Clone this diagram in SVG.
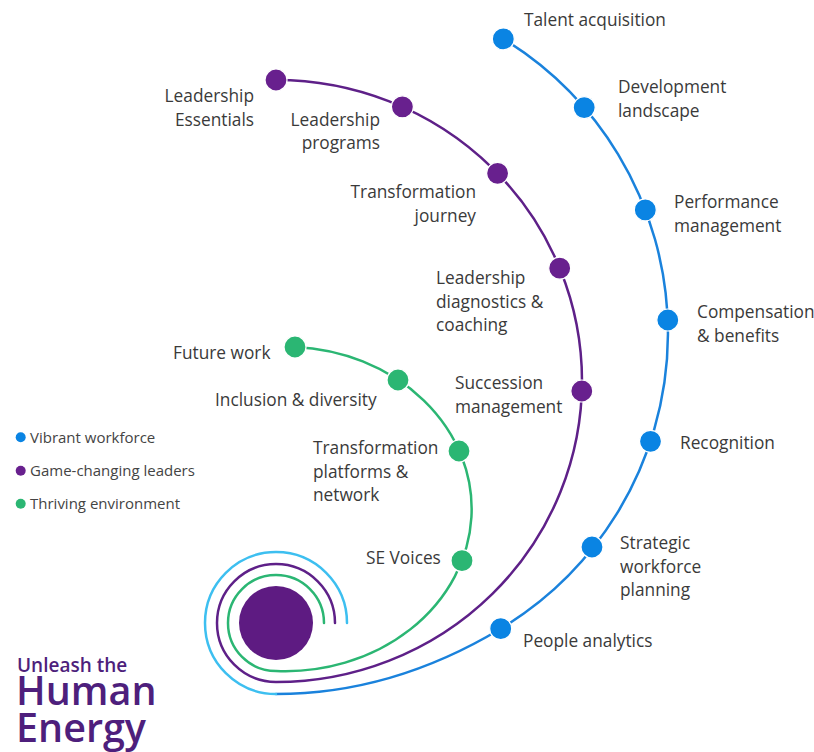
<svg xmlns="http://www.w3.org/2000/svg" width="814" height="752" viewBox="0 0 814 752">
  <style>
    .lbl { font-family: "Open Sans", "Noto Sans", sans-serif; font-size: 17.3px; fill: #3a3a3a; }
    .r { text-anchor: end; }
    .leg { font-family: "Open Sans", "Noto Sans", sans-serif; font-size: 15px; fill: #444; }
    .line { fill: none; stroke-width: 2.5; stroke-linecap: round; }
    .blue { stroke: #1a82dc; }
    .lblue { stroke: #3dbff0; }
    .purple { stroke: #5e2088; }
    .green { stroke: #2bb673; }
    .db { fill: #0a84e3; stroke: #fff; stroke-width: 1.2; }
    .dp { fill: #68208e; stroke: #fff; stroke-width: 1.2; }
    .dg { fill: #2bb673; stroke: #fff; stroke-width: 1.2; }
    .title { font-family: "Open Sans", "Noto Sans", sans-serif; fill: #4e1f7c; font-weight: 600; }
  </style>
  <rect width="814" height="752" fill="#fff"/>

  <g id="connectors">
    <path class="line blue" d="M503.3,38.9 A345,345 0 0 1 500.7,628.7 C415,680.2 340,694 276,694"/>
    <path class="line lblue" d="M276,694 A71,71 0 1 1 347,623"/>
    <path class="line purple" d="M276,80 A306,301 0 0 1 276,682 A59,59 0 1 1 335,623"/>
    <path class="line green" d="M295,347 A186,162 0 0 1 276,671 A48,48 0 1 1 324,623"/>
  </g>

  <circle id="core" cx="276" cy="623" r="37" fill="#5e1b82"/>

  <g id="talent-acquisition"><circle class="db" cx="503.3" cy="38.9" r="11"/><text class="lbl" x="524" y="26">Talent acquisition</text></g>
  <g id="development-landscape"><circle class="db" cx="584.2" cy="107.6" r="11"/><text class="lbl" x="618" y="93">Development</text><text class="lbl" x="618" y="117">landscape</text></g>
  <g id="performance-management"><circle class="db" cx="645.3" cy="209.9" r="11"/><text class="lbl" x="674" y="208">Performance</text><text class="lbl" x="674" y="232">management</text></g>
  <g id="compensation-benefits"><circle class="db" cx="667.8" cy="320" r="11"/><text class="lbl" x="697" y="318">Compensation</text><text class="lbl" x="697" y="341.5">&amp; benefits</text></g>
  <g id="recognition"><circle class="db" cx="650.5" cy="441.3" r="11"/><text class="lbl" x="680" y="449">Recognition</text></g>
  <g id="strategic-workforce-planning"><circle class="db" cx="592" cy="547" r="11"/><text class="lbl" x="620" y="549">Strategic</text><text class="lbl" x="620" y="572.5">workforce</text><text class="lbl" x="620" y="596">planning</text></g>
  <g id="people-analytics"><circle class="db" cx="500.7" cy="628.7" r="11"/><text class="lbl" x="523" y="646.5">People analytics</text></g>

  <g id="leadership-essentials"><circle class="dp" cx="276" cy="80" r="11"/><text class="lbl r" x="254" y="102.3">Leadership</text><text class="lbl r" x="254" y="125.7">Essentials</text></g>
  <g id="leadership-programs"><circle class="dp" cx="402.4" cy="106.8" r="11"/><text class="lbl r" x="380" y="125.7">Leadership</text><text class="lbl r" x="380" y="149">programs</text></g>
  <g id="transformation-journey"><circle class="dp" cx="497.6" cy="173.3" r="11"/><text class="lbl r" x="476" y="198">Transformation</text><text class="lbl r" x="476" y="222">journey</text></g>
  <g id="leadership-diagnostics"><circle class="dp" cx="559.7" cy="268.2" r="11"/><text class="lbl" x="436" y="284">Leadership</text><text class="lbl" x="436" y="307.5">diagnostics &amp;</text><text class="lbl" x="436" y="331">coaching</text></g>
  <g id="succession-management"><circle class="dp" cx="581.8" cy="391" r="11"/><text class="lbl" x="455" y="389">Succession</text><text class="lbl" x="455" y="413">management</text></g>

  <g id="future-work"><circle class="dg" cx="295" cy="347" r="11"/><text class="lbl" x="173" y="359.3">Future work</text></g>
  <g id="inclusion-diversity"><circle class="dg" cx="398" cy="380" r="11"/><text class="lbl" x="215" y="405.5">Inclusion &amp; diversity</text></g>
  <g id="transformation-platforms"><circle class="dg" cx="459" cy="451" r="11"/><text class="lbl" x="313" y="454">Transformation</text><text class="lbl" x="313" y="477.5">platforms &amp;</text><text class="lbl" x="313" y="501">network</text></g>
  <g id="se-voices"><circle class="dg" cx="462" cy="560.7" r="11"/><text class="lbl" x="366" y="564">SE Voices</text></g>

  <g id="legend">
    <circle cx="20.7" cy="437.3" r="5" fill="#0a84e3"/><text class="leg" x="30" y="442.5">Vibrant workforce</text>
    <circle cx="20.7" cy="470.7" r="5" fill="#68208e"/><text class="leg" x="30" y="476">Game-changing leaders</text>
    <circle cx="20.7" cy="503.7" r="5" fill="#2bb673"/><text class="leg" x="30" y="509">Thriving environment</text>
  </g>

  <g id="title">
    <text class="title" x="17" y="671.7" font-size="19">Unleash the</text>
    <text class="title" x="16" y="705" font-size="39.5">Human</text>
    <text class="title" x="16" y="741.7" font-size="39.5">Energy</text>
  </g>
</svg>
